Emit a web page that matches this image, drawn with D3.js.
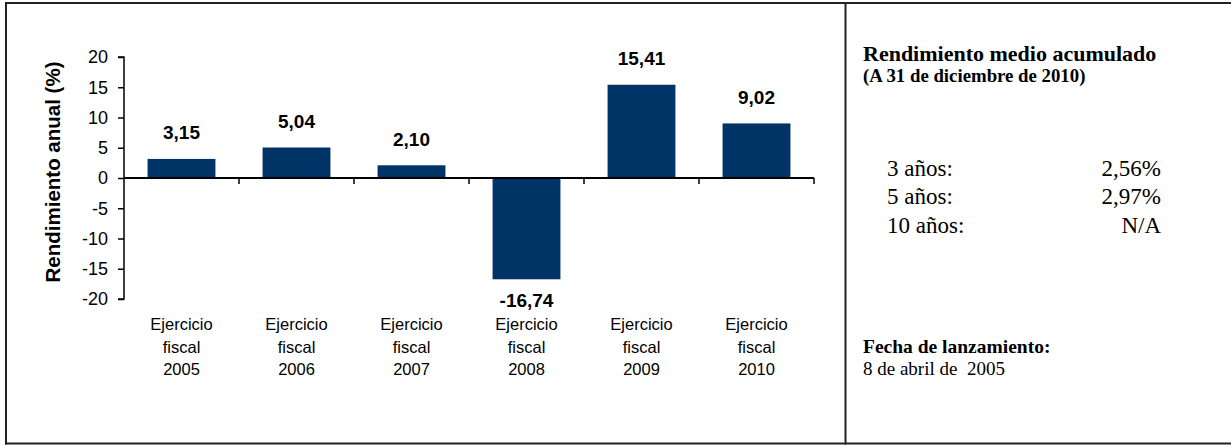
<!DOCTYPE html>
<html>
<head>
<meta charset="utf-8">
<script src="https://cdn.jsdelivr.net/npm/d3@7"></script>
<style>
  html, body { margin: 0; padding: 0; background: #fff; }
  svg { display: block; }
</style>
</head>
<body>
<svg id="chart" width="1231" height="445"></svg>
<script>
// Annual returns by fiscal year
const years = ["2005", "2006", "2007", "2008", "2009", "2010"];
const annualReturns = [3.15, 5.04, 2.10, -16.74, 15.41, 9.02];
const yTicks = [20, 15, 10, 5, 0, -5, -10, -15, -20];
const yTitle = "Rendimiento anual (%)";

// Side panel: cumulative average return
const panelTitle = "Rendimiento medio acumulado";
const panelSubtitle = "(A 31 de diciembre de 2010)";
const periods = ["3 años:", "5 años:", "10 años:"];
const periodReturns = ["2,56%", "2,97%", "N/A"];
const launchLabel = "Fecha de lanzamiento:";
const launchDate = "8 de abril de  2005";

const svg = d3.select("#chart");
const sans = "Arial, 'Liberation Sans', Helvetica, sans-serif";
const serif = "'Times New Roman', 'Liberation Serif', serif";
const barColor = "#003366";

// Frame
const frame = svg.append("g").attr("stroke", "#222").attr("stroke-width", 2).attr("fill", "none");
frame.append("line").attr("x1", 5).attr("x2", 1231).attr("y1", 3).attr("y2", 3);
frame.append("line").attr("x1", 5).attr("x2", 1231).attr("y1", 443.5).attr("y2", 443.5);
frame.append("line").attr("x1", 6).attr("x2", 6).attr("y1", 2).attr("y2", 444.5);
frame.append("line").attr("x1", 845.5).attr("x2", 845.5).attr("y1", 2).attr("y2", 444.5);

// Scales
const x = d3.scaleBand().domain(years).range([124, 814]).paddingInner(0.41).paddingOuter(0.205);
const y = d3.scaleLinear().domain([-20, 20]).range([299, 57]);

// Bars
svg.append("g").selectAll("rect")
  .data(years)
  .join("rect")
  .attr("x", (d) => x(d))
  .attr("width", x.bandwidth())
  .attr("y", (d, i) => y(Math.max(0, annualReturns[i])))
  .attr("height", (d, i) => Math.abs(y(annualReturns[i]) - y(0)))
  .attr("fill", barColor);

// Y axis
const yAxis = svg.append("g")
  .attr("transform", "translate(124,0)")
  .call(d3.axisLeft(y).tickValues(yTicks).tickSize(6).tickPadding(10).tickFormat((d) => String(d)));
yAxis.select(".domain").attr("stroke", "#000").attr("stroke-width", 1.5).attr("d", `M-6,${y(20)}H0V${y(-20)}H-6`);
yAxis.selectAll(".tick line").attr("stroke", "#000").attr("stroke-width", 1.5);
yAxis.selectAll(".tick text")
  .attr("font-family", sans).attr("font-size", 18).attr("fill", "#000");

// X axis (zero line with ticks at category boundaries)
const step = x.step();
const edges = years.map((d) => x(d) + x.bandwidth() / 2 - step / 2).concat([x(years[years.length - 1]) + x.bandwidth() / 2 + step / 2]);
const xAxis = svg.append("g").attr("stroke", "#000").attr("stroke-width", 1.5);
xAxis.append("line").attr("x1", x.range()[0]).attr("x2", x.range()[1]).attr("y1", y(0)).attr("y2", y(0)).attr("stroke-width", 2);
xAxis.selectAll("line.tk").data(edges.slice(1)).join("line").attr("class", "tk")
  .attr("x1", (d) => d).attr("x2", (d) => d).attr("y1", y(0)).attr("y2", y(0) + 6);

// Category labels
const catG = svg.append("g").attr("font-family", sans).attr("font-size", 16.5).attr("fill", "#000").attr("text-anchor", "middle");
years.forEach((yr) => {
  const lines = ["Ejercicio", "fiscal", yr];
  const t = catG.append("text").attr("x", x(yr) + x.bandwidth() / 2).attr("y", 330);
  lines.forEach((ln, j) => {
    t.append("tspan").attr("x", x(yr) + x.bandwidth() / 2).attr("dy", j === 0 ? 0 : 22.5).text(ln);
  });
});

// Value labels
svg.append("g").selectAll("text")
  .data(years)
  .join("text")
  .attr("font-family", sans).attr("font-size", 19).attr("font-weight", "bold").attr("fill", "#000")
  .attr("text-anchor", "middle")
  .attr("x", (d) => x(d) + x.bandwidth() / 2)
  .attr("y", (d, i) => annualReturns[i] >= 0 ? y(annualReturns[i]) - 19.5 : y(annualReturns[i]) + 28)
  .text((d, i) => annualReturns[i].toFixed(2).replace(".", ","));

// Y axis title
svg.append("text")
  .attr("transform", "translate(59.5,172) rotate(-90)")
  .attr("text-anchor", "middle")
  .attr("font-family", sans).attr("font-size", 20.5).attr("font-weight", "bold").attr("fill", "#000")
  .text(yTitle);

// Side panel
const panel = svg.append("g").attr("font-family", serif).attr("fill", "#000");
panel.append("text").attr("x", 863).attr("y", 61).attr("font-size", 22).attr("font-weight", "bold").text(panelTitle);
panel.append("text").attr("x", 863).attr("y", 82).attr("font-size", 18.8).attr("font-weight", "bold").text(panelSubtitle);
periods.forEach((p, i) => {
  const by = 175.5 + i * 28.5;
  panel.append("text").attr("x", 887).attr("y", by).attr("font-size", 23).text(p);
  panel.append("text").attr("x", 1161).attr("y", by).attr("font-size", 23).attr("text-anchor", "end").text(periodReturns[i]);
});
panel.append("text").attr("x", 863).attr("y", 353).attr("font-size", 19.5).attr("font-weight", "bold").text(launchLabel);
panel.append("text").attr("x", 863).attr("y", 375).attr("font-size", 19).style("white-space", "pre").text(launchDate);
</script>
</body>
</html>
